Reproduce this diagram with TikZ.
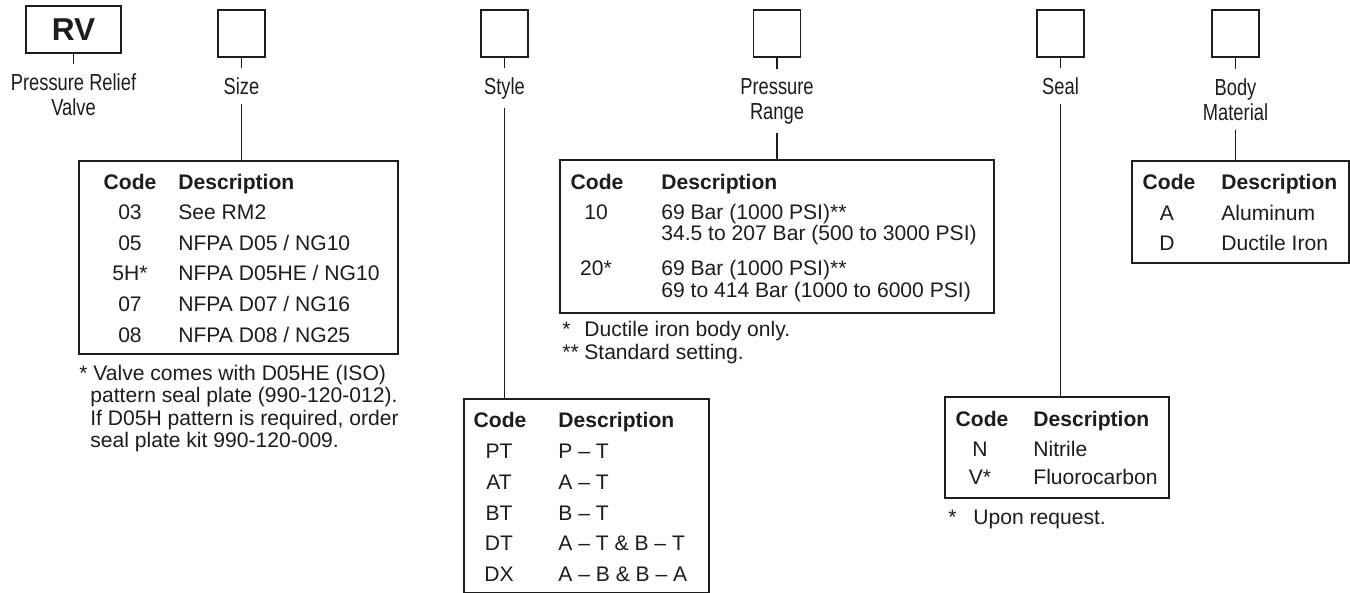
\documentclass[tikz,border=0pt]{standalone}
\usepackage{fontspec}
\setmainfont{Liberation Sans}
\newfontfamily\condfont[FakeStretch=0.79]{Liberation Sans}
\definecolor{ink}{RGB}{30,28,29}
\tikzset{
  selbox/.style={draw, line width=1.1pt, minimum width=0.94cm, minimum height=0.94cm, inner sep=0pt},
  rvbox/.style={draw, line width=1.4pt, minimum width=1.9cm, minimum height=0.94cm, inner sep=0pt,
    font=\fontsize{18}{20}\selectfont\bfseries},
  lbl/.style={font=\condfont\fontsize{13.2}{14.2}\selectfont, align=center, anchor=north, inner sep=0.18cm},
  tbl/.style={draw, line width=1.1pt, anchor=north west, inner sep=0pt},
  conn/.style={line width=0.8pt},
  hdc/.style={font=\fontsize{12}{14}\selectfont\bfseries, anchor=base, inner sep=0pt},
  hdd/.style={font=\fontsize{12}{14}\selectfont\bfseries, anchor=base west, inner sep=0pt},
  cd/.style={font=\fontsize{12}{14}\selectfont, anchor=base, inner sep=0pt},
  ds/.style={font=\fontsize{12}{14}\selectfont, anchor=base west, inner sep=0pt},
}
\begin{document}
\begin{tikzpicture}[x=0.2mm, y=-0.2mm, color=ink]
  \useasboundingbox (0,0) rectangle (1350,593);
  \node[rvbox] (rv) at (73.5,29.5) {RV};
  \node[selbox] (size) at (241.5,33.5) {};
  \node[selbox] (style) at (504.5,33.5) {};
  \node[selbox] (press) at (777,33.5) {};
  \node[selbox] (seal) at (1060.5,33.5) {};
  \node[selbox] (body) at (1235.5,33.5) {};
  \node[lbl] (rvlbl) at (73.5,64) {Pressure Relief\\Valve};
  \node[lbl] (sizelbl) at (241.5,68) {Size};
  \node[lbl] (stylelbl) at (504.5,68) {Style};
  \node[lbl] (presslbl) at (777,69) {Pressure\\Range};
  \node[lbl] (seallbl) at (1060.5,68) {Seal};
  \node[lbl] (bodylbl) at (1235.5,69) {Body\\Material};
  \node[tbl, minimum width=319*0.2mm, minimum height=193*0.2mm] (sizetab) at (78,160) {};
  \node[tbl, minimum width=245*0.2mm, minimum height=194*0.2mm] (styletab) at (463,398) {};
  \node[tbl, minimum width=434*0.2mm, minimum height=153*0.2mm] (presstab) at (559,159) {};
  \node[tbl, minimum width=224*0.2mm, minimum height=101*0.2mm] (sealtab) at (944,396) {};
  \node[tbl, minimum width=217*0.2mm, minimum height=102*0.2mm] (bodytab) at (1131,160) {};
  \draw[conn] (rv) -- (rvlbl);
  \draw[conn] (size) -- (sizelbl);
  \draw[conn] (sizelbl) -- (sizelbl.south |- sizetab.north);
  \draw[conn] (style) -- (stylelbl);
  \draw[conn] (stylelbl) -- (stylelbl.south |- styletab.north);
  \draw[conn] (press) -- (presslbl);
  \draw[conn] (presslbl) -- (presslbl.south |- presstab.north);
  \draw[conn] (seal) -- (seallbl);
  \draw[conn] (seallbl) -- (seallbl.south |- sealtab.north);
  \draw[conn] (body) -- (bodylbl);
  \draw[conn] (bodylbl) -- (bodylbl.south |- bodytab.north);
  \node[hdc] (sizech) at (130,189.5) {Code};
  \node[hdd] (sizedh) at (178,189.5) {Description};
  \foreach \c/\d/\y [count=\i] in {03/See RM2/212, 05/{NFPA D05 / NG10}/243, 5H*/{NFPA D05HE / NG10}/273,
      07/{NFPA D07 / NG16}/304, 08/{NFPA D08 / NG25}/335} {
    \node[cd] (sizec\i) at (130,\y+7.5) {\c};
    \node[ds] (sized\i) at (178,\y+7.5) {\d};
  }
  \node[ds] (sizen1) at (79,380.5) {* Valve comes with D05HE (ISO)};
  \foreach \t/\y [count=\i from 2] in {{pattern seal plate (990-120-012).}/403,
      {If D05H pattern is required, order}/425.5, {seal plate kit 990-120-009.}/448} {
    \node[ds] (sizen\i) at (90,\y) {\t};
  }
  \node[hdc] (stylech) at (500,427.5) {Code};
  \node[hdd] (styledh) at (558,427.5) {Description};
  \foreach \c/\d/\y [count=\i] in {PT/P – T/451, AT/A – T/482, BT/B – T/513,
      DT/A – T \& B – T/543, DX/A – B \& B – A/574} {
    \node[cd] (stylec\i) at (499,\y+7.5) {\c};
    \node[ds] (styled\i) at (558,\y+7.5) {\d};
  }
  \node[hdc] (pressch) at (597,189.5) {Code};
  \node[hdd] (pressdh) at (661,189.5) {Description};
  \node[cd] (pressc1) at (596,219.5) {10};
  \node[cd] (pressc2) at (596,275.5) {20*};
  \foreach \d/\y [count=\i] in {{69 Bar (1000 PSI)**}/212, {34.5 to 207 Bar (500 to 3000 PSI)}/233,
      {69 Bar (1000 PSI)**}/268, {69 to 414 Bar (1000 to 6000 PSI)}/290} {
    \node[ds] (pressd\i) at (661,\y+7.5) {\d};
  }
  \node[ds] (pressn1) at (562,336.5) {\makebox[0.44cm][l]{*}Ductile iron body only.};
  \node[ds] (pressn2) at (562,359.5) {\makebox[0.44cm][l]{**}Standard setting.};
  \node[hdc] (sealch) at (982,426.5) {Code};
  \node[hdd] (sealdh) at (1033,426.5) {Description};
  \node[cd] (sealc1) at (980,456.5) {N};
  \node[ds] (seald1) at (1033,456.5) {Nitrile};
  \node[cd] (sealc2) at (980,484.5) {V*};
  \node[ds] (seald2) at (1033,484.5) {Fluorocarbon};
  \node[ds] (sealn1) at (948,524.5) {\makebox[0.5cm][l]{*}Upon request.};
  \node[hdc] (bodych) at (1169,189.5) {Code};
  \node[hdd] (bodydh) at (1221,189.5) {Description};
  \node[cd] (bodyc1) at (1167,220.5) {A};
  \node[ds] (bodyd1) at (1221,220.5) {Aluminum};
  \node[cd] (bodyc2) at (1167,250.5) {D};
  \node[ds] (bodyd2) at (1221,250.5) {Ductile Iron};
\end{tikzpicture}
\end{document}
